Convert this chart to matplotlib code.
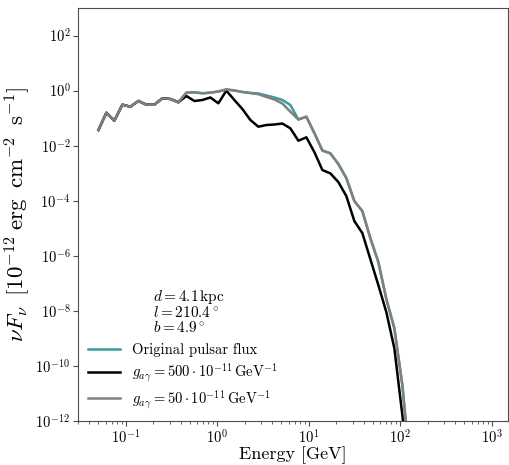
import matplotlib
matplotlib.use("Agg")
import matplotlib.pyplot as plt

plt.rcParams['font.family'] = 'serif'
plt.rcParams['font.serif'] = ['cmr10', 'DejaVu Serif']
plt.rcParams['mathtext.fontset'] = 'cm'
plt.rcParams['axes.formatter.use_mathtext'] = True

# energies (GeV), shared by the three curves
energia = [0.0501, 0.0612, 0.0748, 0.0916, 0.112, 0.137, 0.1675, 0.2048, 0.2505, 0.3064,
           0.3748, 0.4584, 0.5606, 0.6856, 0.8385, 1.025, 1.254, 1.534, 1.876, 2.295,
           2.806, 3.432, 4.198, 5.134, 6.279, 7.678, 9.391, 11.48, 14.05, 17.18,
           21.01, 25.69, 31.43, 38.44, 47.0, 57.49, 70.31, 85.99, 105.2, 128.6]

# nu F_nu in units of 1e-12 erg cm^-2 s^-1
fluxo_original = [0.0372, 0.158, 0.0811, 0.310, 0.262, 0.422, 0.310, 0.310, 0.529, 0.499,
                  0.379, 0.846, 0.875, 0.804, 0.846, 0.935, 1.105, 1.017, 0.897, 0.825,
                  0.791, 0.669, 0.566, 0.459, 0.302, 0.0897, 0.1134, 0.0290, 6.69e-3, 5.29e-3,
                  2.16e-3, 6.69e-4, 9.75e-5, 4.22e-5, 4.40e-6, 5.90e-7, 2.66e-8, 2.35e-9, 1.99e-11, 1.6e-14]

fluxo_g500 = [0.0372, 0.158, 0.0811, 0.310, 0.262, 0.422, 0.310, 0.310, 0.529, 0.499,
              0.379, 0.642, 0.422, 0.459, 0.566, 0.348, 1.0, 0.459, 0.216, 0.0860,
              0.0491, 0.0566, 0.0590, 0.0641, 0.0429, 0.0152, 0.0202, 5.90e-3, 1.31e-3, 9.91e-4,
              4.79e-4, 1.48e-4, 1.83e-5, 6.69e-6, 7.59e-7, 8.61e-8, 8.97e-9, 4.37e-10, 1.62e-12, 1.3e-15]

fluxo_g50 = [0.0372, 0.158, 0.0811, 0.310, 0.262, 0.422, 0.310, 0.310, 0.529, 0.499,
             0.379, 0.846, 0.875, 0.804, 0.846, 0.935, 1.105, 1.017, 0.897, 0.825,
             0.746, 0.590, 0.479, 0.342, 0.1723, 0.0897, 0.1134, 0.0290, 6.69e-3, 5.29e-3,
             2.16e-3, 6.69e-4, 9.75e-5, 4.22e-5, 4.40e-6, 5.90e-7, 2.66e-8, 2.35e-9, 1.99e-11, 1.6e-14]

fig = plt.figure(figsize=(5.1, 4.65), dpi=100)
ax = fig.add_axes([0.153, 0.0946, 0.843, 0.888])

ax.plot(energia, fluxo_original, color='#3a9c9c', lw=1.8, label='Original pulsar flux')
ax.plot(energia, fluxo_g500, color='black', lw=1.8,
        label=r'$g_{a\gamma} = 500 \cdot 10^{-11}\,\mathrm{GeV}^{-1}$')
ax.plot(energia, fluxo_g50, color='#808080', lw=1.8,
        label=r'$g_{a\gamma} = 50 \cdot 10^{-11}\,\mathrm{GeV}^{-1}$')

ax.set_xscale('log')
ax.set_yscale('log')
ax.set_xlim(0.03, 1500)
ax.set_ylim(1e-12, 1e3)

for s in ax.spines.values():
    s.set_color('0.3')
ax.tick_params(which='both', colors='0.3', labelcolor='black', labelsize=10.5, pad=2)
ax.tick_params(which='major', length=3.5)
ax.tick_params(which='minor', length=2)

ax.set_xlabel('Energy [GeV]', fontsize=13, labelpad=0)
ax.set_ylabel(r'$\nu F_\nu\;\;[10^{-12}\;\mathrm{erg}\;\;\mathrm{cm}^{-2}\;\;\mathrm{s}^{-1}]$',
              fontsize=16.5, labelpad=2)

ax.text(0.175, 0.266, r'$d = 4.1\,\mathrm{kpc}$' + '\n' + r'$l = 210.4^\circ$' + '\n' + r'$b = 4.9^\circ$',
        transform=ax.transAxes, fontsize=11, va='center', ha='left', linespacing=0.95)

ax.legend(loc='lower left', frameon=False, fontsize=10.5, handlelength=2.2,
          borderaxespad=0.3, labelspacing=0.3)

fig.savefig('out.png', dpi=100)
